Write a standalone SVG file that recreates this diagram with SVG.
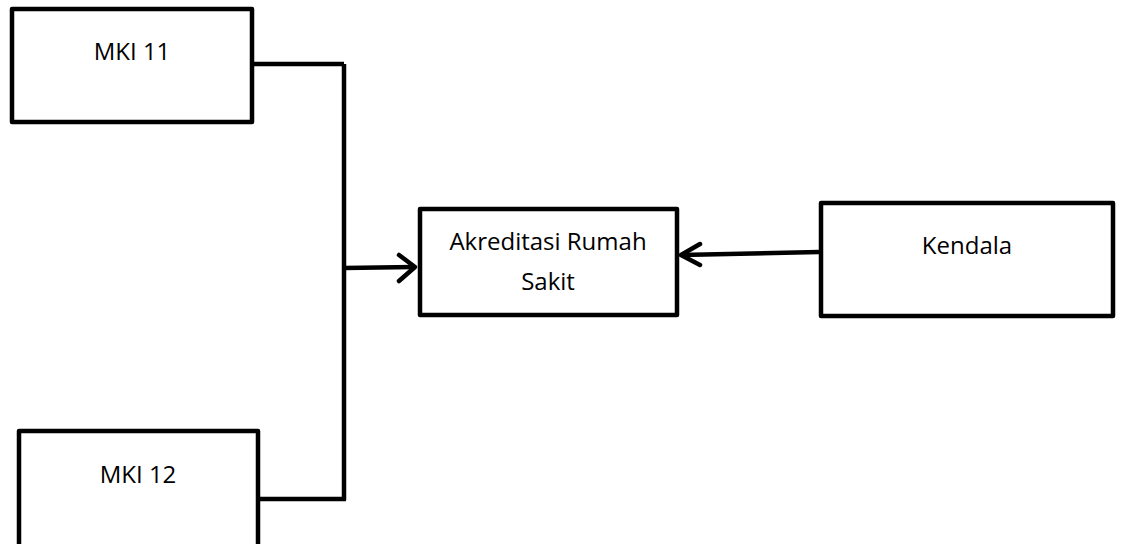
<svg xmlns="http://www.w3.org/2000/svg" width="1123" height="544" viewBox="0 0 1123 544">
<style>
.box{fill:#fff;stroke:#000;stroke-width:4.5;stroke-linejoin:round}
.lbl{font-family:"Open Sans","Liberation Sans",sans-serif;font-size:24px;fill:#000;text-anchor:middle}
.ln{fill:none;stroke:#000;stroke-width:4.5;stroke-linejoin:round}
.ah{fill:none;stroke:#000;stroke-width:4.5;stroke-linecap:round;stroke-linejoin:round}
</style>
<rect width="1123" height="544" fill="#fff"/>
<g id="connectors">
<polyline class="ln" points="254,64 344,64"/>
<line class="ln" x1="344" y1="64" x2="344" y2="500"/>
<polyline class="ln" points="260,499 346,499"/>
<line class="ln" x1="344" y1="268" x2="414" y2="267"/>
<polyline class="ah" points="399,255 415,267 399,281"/>
<line class="ln" x1="819" y1="252" x2="681" y2="255"/>
<polyline class="ah" points="700,244 681,255 700,265"/>
</g>
<g id="mki11">
<rect class="box" x="12" y="9" width="240" height="113"/>
<text class="lbl" x="132" y="60">MKI 11</text>
</g>
<g id="mki12">
<rect class="box" x="19" y="431" width="239" height="125"/>
<text class="lbl" x="138" y="483">MKI 12</text>
</g>
<g id="akreditasi">
<rect class="box" x="420" y="209" width="257" height="106"/>
<text class="lbl" x="548" y="250">Akreditasi Rumah</text>
<text class="lbl" x="548" y="290">Sakit</text>
</g>
<g id="kendala">
<rect class="box" x="821" y="203" width="292" height="113"/>
<text class="lbl" x="967" y="254">Kendala</text>
</g>
</svg>
